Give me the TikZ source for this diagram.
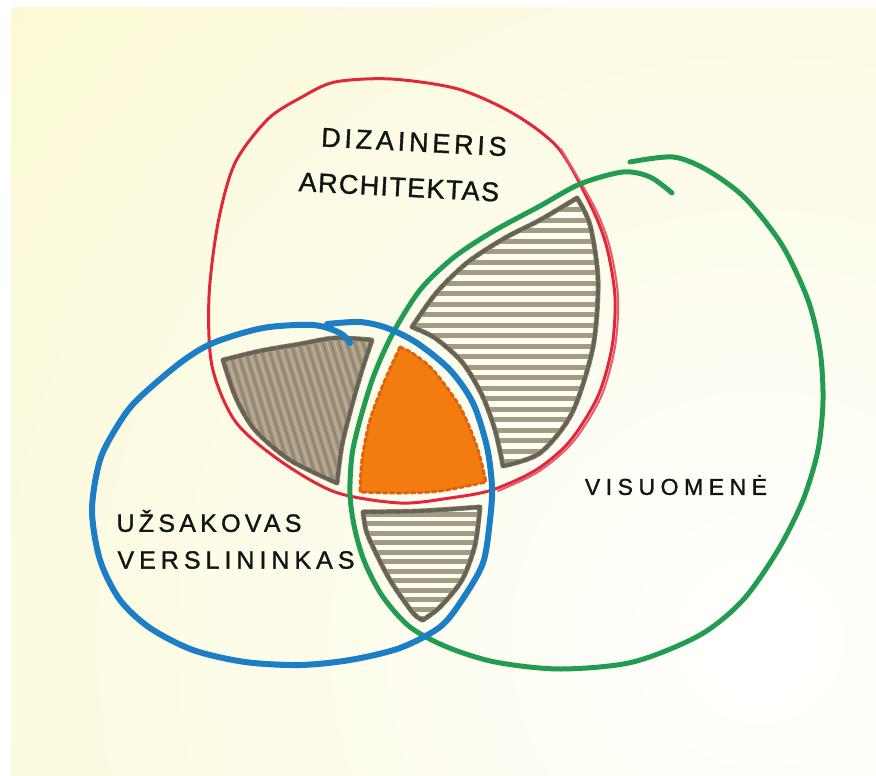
\documentclass[tikz,border=0pt]{standalone}
\usepackage{fontspec}
\setmainfont{Liberation Sans}[FakeBold=1.2]
\definecolor{cream}{RGB}{251,249,212}
\definecolor{redl}{RGB}{226,40,56}
\definecolor{redp}{RGB}{232,90,110}
\definecolor{greenl}{RGB}{34,156,80}
\definecolor{bluel}{RGB}{28,126,196}
\definecolor{stripec}{RGB}{162,155,130}
\definecolor{bordc}{RGB}{104,98,84}
\definecolor{bordl}{RGB}{150,144,124}
\definecolor{brownf}{RGB}{172,157,136}
\definecolor{brownl}{RGB}{140,138,114}
\definecolor{brownp}{RGB}{205,172,150}
\definecolor{orangef}{RGB}{242,124,16}
\definecolor{oranged}{RGB}{226,98,10}
\definecolor{inkc}{RGB}{20,20,20}
\newcommand\regionA{plot[smooth] coordinates {(577,198) (540,220) (505,238) (468,262) (437,292) (412,327)} -- plot[smooth] coordinates {(412,327) (435,338) (462,362) (482,395) (495,430) (503,466)} -- plot[smooth] coordinates {(503,466) (540,453) (572,413) (593,347) (598,280) (590,225) (577,198)} -- cycle}
\newcommand\regionB{plot[smooth] coordinates {(223,360) (260,351) (300,344) (335,338) (372,340)} -- plot[smooth] coordinates {(372,340) (362,370) (352,405) (342,445) (337,483)} -- plot[smooth] coordinates {(337,483) (290,460) (255,430) (236,398) (223,360)} -- cycle}
\newcommand\regionC{plot[smooth] coordinates {(400,347) (385,380) (370,420) (362,460) (360,492)} -- plot[smooth] coordinates {(360,492) (400,493) (440,491) (486,482)} -- plot[smooth] coordinates {(486,482) (477,447) (460,407) (433,370) (412,353) (400,347)} -- cycle}
\newcommand\regionD{plot[smooth] coordinates {(363,512) (420,511) (480,507)} -- plot[smooth] coordinates {(480,507) (475,545) (462,580) (440,607) (423,620)} -- plot[smooth] coordinates {(423,620) (413,613) (390,580) (373,547) (366,530) (363,512)} -- cycle}
\tikzset{
  stripe/.style={line width=5pt, stripec},
  bordsolid/.style={line width=5pt, bordl},
  borddash/.style={line width=4pt, bordc, dash pattern=on 5pt off 3pt},
  lbl/.style={inner sep=0pt, text=inkc}
}
\begin{document}
\begin{tikzpicture}[x=1pt,y=-1pt,line cap=round,line join=round]
\useasboundingbox (0,0) rectangle (876,776);
\fill[white] (0,0) rectangle (876,776);
\begin{scope}
  \clip (11,8) rectangle (876,776);
  \fill[cream] (11,8) rectangle (876,776);
  \shade[inner color=white, outer color=cream] (760,640) circle (1000);
\end{scope}

% region 1: red and green
\fill[white!70!cream] \regionA;
\begin{scope}
  \clip \regionA;
  \foreach \yy in {199,209.5,...,475} \draw[stripe] (400,\yy) -- (615,\yy);
\end{scope}
\draw[bordsolid] \regionA;
\draw[borddash] \regionA;

% region 2: red and blue
\fill[brownf] \regionB;
\begin{scope}
  \clip \regionB;
  \foreach \xx in {100,108,...,420} \draw[line width=2.5pt, brownl] (\xx,320) -- (\xx+55,500);
  \foreach \xx in {104,112,...,424} \draw[line width=1.2pt, brownp] (\xx,320) -- (\xx+55,500);
\end{scope}
\draw[bordsolid] \regionB;
\draw[borddash] \regionB;

% region 3: all three
\fill[orangef] \regionC;
\draw[line width=3pt, oranged, dash pattern=on 4pt off 3pt] \regionC;

% region 4: blue and green
\fill[white!70!cream] \regionD;
\begin{scope}
  \clip \regionD;
  \foreach \yy in {514,523.5,...,625} \draw[stripe] (350,\yy) -- (500,\yy);
\end{scope}
\draw[bordsolid] \regionD;
\draw[borddash] \regionD;

% red set
\draw[redl, line width=3pt] plot[smooth cycle] coordinates {(302,97) (268,119) (235,163) (218,223) (209,297) (212,366) (235,421) (279,460) (335,492) (400,503) (450,498) (492,490) (536,470) (570,441) (598,396) (612,347) (615,297) (607,248) (592,208) (559,149) (514,114) (458,89) (391,79) (335,82)};
\draw[redp, line width=2pt] plot[smooth] coordinates {(561,149) (595,208) (610,248) (618,297) (615,347) (601,397) (573,442) (538,472) (498,491)};

% green set
\draw[greenl, line width=5pt] plot[smooth] coordinates {(630,162) (673,157) (707,170) (745,198) (782,245) (808,300) (820,350) (823,400) (818,450) (803,500) (778,550) (743,600) (700,635) (633,662) (560,669) (495,662) (447,647) (410,627) (383,597) (365,563) (355,530) (350,495) (352,455) (360,420) (374,375) (393,333) (420,290) (453,258) (492,232) (540,206) (580,184) (623,172) (650,177) (672,193)};

% blue set
\draw[bluel, line width=6pt] plot[smooth] coordinates {(327,324) (360,322) (387,328) (417,343) (450,370) (473,403) (487,447) (492,487) (490,520) (483,563) (462,600) (440,627) (400,648) (350,660) (300,665) (245,662) (193,650) (150,628) (120,600) (100,560) (92,510) (100,460) (118,425) (137,400) (180,363) (213,343) (263,328) (313,325) (340,333) (350,343)};

% labels
\node[lbl, rotate=-3, font=\fontsize{27pt}{27pt}\selectfont\addfontfeature{LetterSpace=14}] (dizaineris) at (414,142) {DIZAINERIS};
\node[lbl, rotate=-3, font=\fontsize{27pt}{27pt}\selectfont\addfontfeature{LetterSpace=5}] (architektas) at (399,187) {ARCHITEKTAS};
\node[lbl, font=\fontsize{25pt}{25pt}\selectfont\addfontfeature{LetterSpace=17}] (uzsakovas) at (209,521) {UŽSAKOVAS};
\node[lbl, font=\fontsize{25pt}{25pt}\selectfont\addfontfeature{LetterSpace=20}] (verslininkas) at (236,560) {VERSLININKAS};
\node[lbl, font=\fontsize{23pt}{23pt}\selectfont\addfontfeature{LetterSpace=24}] (visuomene) at (676,485) {VISUOMENĖ};
\end{tikzpicture}
\end{document}
